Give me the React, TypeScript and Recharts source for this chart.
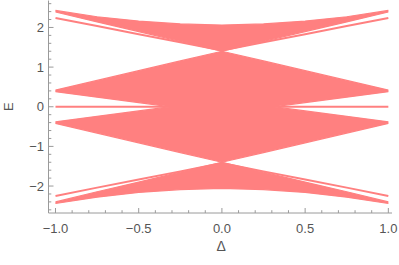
import React from 'react';
import { ComposedChart, Area, Line, XAxis, YAxis } from 'recharts';

// Δ sample positions
const DELTA = [-1, -0.75, -0.5, -0.25, 0, 0.25, 0.5, 0.75, 1];

// upper outer band
const TOP_HI = [2.43, 2.27, 2.16, 2.09, 2.06, 2.09, 2.16, 2.27, 2.43];
const TOP_LO = [2.39, 2.14, 1.895, 1.65, 1.4, 1.65, 1.895, 2.14, 2.39];
// upper edge line
const EDGE_UP = [2.24, 2.035, 1.83, 1.625, 1.42, 1.625, 1.83, 2.035, 2.24];
// upper inner band
const MID_HI = [0.42, 0.665, 0.91, 1.155, 1.4, 1.155, 0.91, 0.665, 0.42];
const MID_LO = [0.38, 0.2425, 0.105, -0.0325, -0.17, -0.0325, 0.105, 0.2425, 0.38];
// zero modes
const ZERO = [0, 0, 0, 0, 0, 0, 0, 0, 0];
// lower inner band
const MIDN_HI = [-0.38, -0.2425, -0.105, 0.0325, 0.17, 0.0325, -0.105, -0.2425, -0.38];
const MIDN_LO = [-0.42, -0.665, -0.91, -1.155, -1.4, -1.155, -0.91, -0.665, -0.42];
// lower edge line
const EDGE_DN = [-2.25, -2.04, -1.835, -1.63, -1.42, -1.63, -1.835, -2.04, -2.25];
// lower outer band
const BOT_HI = [-2.4, -2.145, -1.9, -1.65, -1.4, -1.65, -1.9, -2.145, -2.4];
const BOT_LO = [-2.44, -2.28, -2.16, -2.09, -2.06, -2.09, -2.16, -2.28, -2.44];

const X_TICKS = [-1, -0.9, -0.8, -0.7, -0.6, -0.5, -0.4, -0.3, -0.2, -0.1, 0, 0.1, 0.2, 0.3, 0.4, 0.5, 0.6, 0.7, 0.8, 0.9, 1];
const Y_TICKS = [-2.6, -2.4, -2.2, -2, -1.8, -1.6, -1.4, -1.2, -1, -0.8, -0.6, -0.4, -0.2, 0, 0.2, 0.4, 0.6, 0.8, 1, 1.2, 1.4, 1.6, 1.8, 2, 2.2, 2.4, 2.6];

const FILL = '#ff8080';
const AXIS = '#9a9a9a';
const TEXT = '#555555';
const FONT = '"Liberation Sans", Arial, sans-serif';

const data = DELTA.map((d, i) => ({
  d,
  top: [TOP_LO[i], TOP_HI[i]],
  mid: [MID_LO[i], MID_HI[i]],
  midn: [MIDN_LO[i], MIDN_HI[i]],
  bot: [BOT_LO[i], BOT_HI[i]],
  edgeUp: EDGE_UP[i],
  edgeDn: EDGE_DN[i],
  zero: ZERO[i],
}));

const isMajorX = (v: number) => Math.abs(v * 2 - Math.round(v * 2)) < 1e-6;
const isMajorY = (v: number) => Math.abs(v - Math.round(v)) < 1e-6;
const fmt = (s: string) => s.replace('-', '\u2212');

const BottomTick = (p: any) => {
  const v = p.payload.value;
  const major = isMajorX(v);
  return (
    <g>
      <line x1={p.x} x2={p.x} y1={p.y} y2={p.y - (major ? 5 : 2.8)} stroke={AXIS} strokeWidth={1} />
      {major && (
        <text x={p.x} y={p.y + 20} textAnchor="middle" fontSize={13} fill={TEXT} fontFamily={FONT}>
          {fmt(v.toFixed(1))}
        </text>
      )}
    </g>
  );
};

const TopTick = (p: any) => {
  const v = p.payload.value;
  const major = isMajorX(v);
  return <line x1={p.x} x2={p.x} y1={p.y} y2={p.y + (major ? 5 : 2.8)} stroke={AXIS} strokeWidth={1} />;
};

const LeftTick = (p: any) => {
  const v = p.payload.value;
  const major = isMajorY(v);
  return (
    <g>
      <line x1={p.x} x2={p.x + (major ? 5 : 2.8)} y1={p.y} y2={p.y} stroke={AXIS} strokeWidth={1} />
      {major && (
        <text x={p.x - 4.5} y={p.y + 4.6} textAnchor="end" fontSize={13} fill={TEXT} fontFamily={FONT}>
          {fmt(String(Math.round(v)))}
        </text>
      )}
    </g>
  );
};

const RightTick = (p: any) => {
  const v = p.payload.value;
  const major = isMajorY(v);
  return <line x1={p.x} x2={p.x - (major ? 5 : 2.8)} y1={p.y} y2={p.y} stroke={AXIS} strokeWidth={1} />;
};

const XLabel = (props: any) => {
  const vb = props.viewBox;
  return (
    <text x={vb.x + vb.width / 2 + 1} y={vb.y + 37.5} textAnchor="middle" fontSize={14} fill={TEXT} fontFamily={FONT}>
      Δ
    </text>
  );
};

const YLabel = (props: any) => {
  const vb = props.viewBox;
  const cx = vb.x + 8;
  const cy = vb.y + vb.height / 2;
  return (
    <text x={cx} y={cy} transform={`rotate(-90 ${cx} ${cy})`} textAnchor="middle" dominantBaseline="central" fontSize={13} fill={TEXT} fontFamily={FONT}>
      E
    </text>
  );
};

const X_DOMAIN: [number, number] = [-1.042, 1.022];
const Y_DOMAIN: [number, number] = [-2.68, 2.68];

export default function App() {
  return (
    <div style={{ position: 'absolute', left: 0, top: 0, width: 399, height: 265, background: '#fff' }}>
      <ComposedChart width={399} height={265} data={data} margin={{ top: 0.5, right: 7, bottom: 0, left: 0.5 }}>
        <XAxis
          xAxisId="b"
          dataKey="d"
          type="number"
          domain={X_DOMAIN}
          allowDataOverflow
          ticks={X_TICKS}
          interval={0}
          tickSize={0}
          tickMargin={0}
          tickLine={false}
          height={52}
          axisLine={{ stroke: AXIS }}
          tick={(p: any) => <BottomTick {...p} />}
          label={(p: any) => <XLabel {...p} />}
        />
        <XAxis
          xAxisId="t"
          orientation="top"
          dataKey="d"
          type="number"
          domain={X_DOMAIN}
          allowDataOverflow
          ticks={X_TICKS}
          interval={0}
          tickSize={0}
          tickMargin={0}
          tickLine={false}
          height={0}
          axisLine={{ stroke: AXIS }}
          tick={(p: any) => <TopTick {...p} />}
        />
        <YAxis
          yAxisId="l"
          type="number"
          domain={Y_DOMAIN}
          allowDataOverflow
          ticks={Y_TICKS}
          interval={0}
          tickSize={0}
          tickMargin={0}
          tickLine={false}
          width={48}
          axisLine={{ stroke: AXIS }}
          tick={(p: any) => <LeftTick {...p} />}
          label={(p: any) => <YLabel {...p} />}
        />
        <YAxis
          yAxisId="r"
          orientation="right"
          type="number"
          domain={Y_DOMAIN}
          allowDataOverflow
          ticks={Y_TICKS}
          interval={0}
          tickSize={0}
          tickMargin={0}
          tickLine={false}
          width={0}
          axisLine={{ stroke: AXIS }}
          tick={(p: any) => <RightTick {...p} />}
        />
        <Area xAxisId="b" yAxisId="l" type="linear" dataKey="top" fill={FILL} fillOpacity={1} stroke={FILL} strokeWidth={1.2} isAnimationActive={false} dot={false} activeDot={false} />
        <Area xAxisId="b" yAxisId="l" type="linear" dataKey="mid" fill={FILL} fillOpacity={1} stroke={FILL} strokeWidth={1.2} isAnimationActive={false} dot={false} activeDot={false} />
        <Area xAxisId="b" yAxisId="l" type="linear" dataKey="midn" fill={FILL} fillOpacity={1} stroke={FILL} strokeWidth={1.2} isAnimationActive={false} dot={false} activeDot={false} />
        <Area xAxisId="b" yAxisId="l" type="linear" dataKey="bot" fill={FILL} fillOpacity={1} stroke={FILL} strokeWidth={1.2} isAnimationActive={false} dot={false} activeDot={false} />
        <Line xAxisId="b" yAxisId="l" type="linear" dataKey="edgeUp" stroke={FILL} strokeWidth={2} dot={false} activeDot={false} isAnimationActive={false} />
        <Line xAxisId="b" yAxisId="l" type="linear" dataKey="edgeDn" stroke={FILL} strokeWidth={2} dot={false} activeDot={false} isAnimationActive={false} />
        <Line xAxisId="b" yAxisId="l" type="linear" dataKey="zero" stroke={FILL} strokeWidth={2} dot={false} activeDot={false} isAnimationActive={false} />
      </ComposedChart>
    </div>
  );
}
